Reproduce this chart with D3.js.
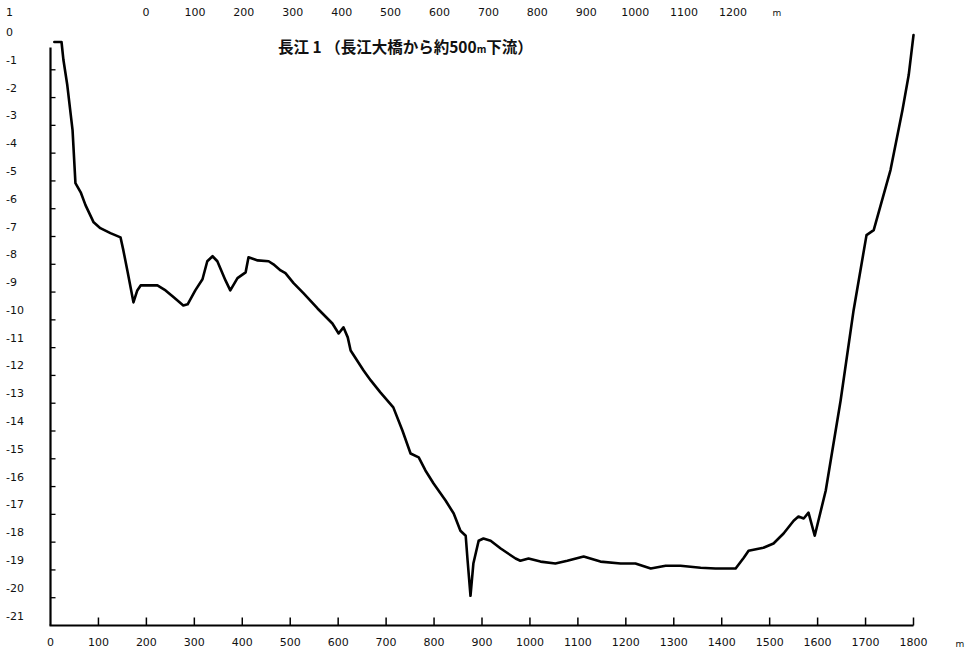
<!DOCTYPE html>
<html>
<head>
<meta charset="utf-8">
<script src="https://cdn.jsdelivr.net/npm/d3@7"></script>
<style>
  html, body { margin: 0; padding: 0; background: #fff; }
  svg { display: block; }
  .lbl { font-family: "DejaVu Sans", sans-serif; font-size: 11px; fill: #111; }
</style>
</head>
<body>
<svg id="chart" width="974" height="654"></svg>
<script>
// Cross-section of the river bed: distance from the left bank (m) and bed elevation (m)
const distance = [8, 23, 27, 35, 46, 52, 63, 73, 90, 104, 125, 146, 152, 161, 173, 181, 188,
  223, 240, 257, 277, 286, 302, 317, 327, 338, 348, 365, 375, 390, 407, 413, 432, 455, 465,
  480, 490, 507, 528, 557, 588, 601, 611, 620, 626, 653, 668, 688, 715, 734, 751, 768, 782,
  799, 824, 841, 855, 866, 870, 876, 882, 893, 903, 918, 939, 970, 980, 997, 1022, 1053,
  1078, 1112, 1147, 1189, 1220, 1252, 1283, 1314, 1356, 1387, 1429, 1446, 1456, 1487, 1508,
  1529, 1550, 1560, 1571, 1581, 1594, 1617, 1648, 1675, 1702, 1717, 1752, 1777, 1790, 1800];
const elevation = [0, 0, -0.65, -1.55, -3.17, -5.08, -5.41, -5.87, -6.49, -6.70, -6.88, -7.03,
  -7.50, -8.29, -9.37, -8.94, -8.76, -8.76, -8.94, -9.19, -9.48, -9.44, -8.94, -8.54, -7.89,
  -7.71, -7.89, -8.58, -8.94, -8.50, -8.29, -7.75, -7.86, -7.89, -8.00, -8.22, -8.32, -8.68,
  -9.05, -9.59, -10.13, -10.49, -10.27, -10.63, -11.10, -11.82, -12.18, -12.61, -13.15,
  -13.98, -14.81, -14.95, -15.42, -15.89, -16.50, -16.97, -17.59, -17.77, -18.67, -19.93,
  -18.77, -17.95, -17.87, -17.95, -18.23, -18.59, -18.67, -18.59, -18.70, -18.77, -18.67,
  -18.52, -18.70, -18.77, -18.77, -18.95, -18.85, -18.85, -18.92, -18.95, -18.95, -18.56,
  -18.31, -18.20, -18.05, -17.69, -17.23, -17.08, -17.15, -16.94, -17.77, -16.14, -12.90,
  -9.66, -6.95, -6.77, -4.61, -2.45, -1.19, 0.25];

// Axis ticks and labels
const xTicks = [0, 100, 200, 300, 400, 500, 600, 700, 800, 900, 1000, 1100, 1200, 1300, 1400, 1500, 1600, 1700, 1800];
const yLabels = [1, 0, -1, -2, -3, -4, -5, -6, -7, -8, -9, -10, -11, -12, -13, -14, -15, -16, -17, -18, -19, -20, -21];
const yTicks = [-1, -2, -3, -4, -5, -6, -7, -8, -9, -10, -11, -12, -13, -14, -15, -16, -17, -18, -19, -20];
const scaleBarTicks = [0, 100, 200, 300, 400, 500, 600, 700, 800, 900, 1000, 1100, 1200];

const titleMain = "長江 1 （長江大橋から約500";
const titleUnit = "m";
const titleTail = "下流）";

const svg = d3.select("#chart");

const x = d3.scaleLinear().domain([0, 1800]).range([50.5, 913.5]);
const y = d3.scaleLinear().domain([0, -21]).range([42, 625.5]);

// Scale bar along the top
const sb = d3.scaleLinear().domain([0, 1200]).range([146, 733]);
svg.append("g").selectAll("text").data(scaleBarTicks).join("text")
  .attr("class", "lbl")
  .attr("x", d => sb(d)).attr("y", 16)
  .attr("text-anchor", "middle")
  .text(d => d);
svg.append("text").attr("class", "lbl").attr("x", 777).attr("y", 16)
  .attr("text-anchor", "middle").style("font-size", "9px").text("m");

// Left axis
const yAxis = svg.append("g");
yAxis.append("line")
  .attr("x1", x(0)).attr("x2", x(0))
  .attr("y1", y(-0.2)).attr("y2", y(-21))
  .attr("stroke", "#000").attr("stroke-width", 2.2);
yAxis.selectAll("line.tick").data(yTicks).join("line")
  .attr("class", "tick")
  .attr("x1", x(0)).attr("x2", x(0) + 5)
  .attr("y1", d => y(d)).attr("y2", d => y(d))
  .attr("stroke", "#000").attr("stroke-width", 1.3);
yAxis.selectAll("text").data(yLabels).join("text")
  .attr("class", "lbl")
  .attr("x", 6).attr("y", d => Math.max(y(d) - 6, 16))
  .text(d => d);

// Bottom axis
const xAxis = svg.append("g");
xAxis.append("line")
  .attr("x1", x(0) - 1).attr("x2", x(1800))
  .attr("y1", y(-21)).attr("y2", y(-21))
  .attr("stroke", "#000").attr("stroke-width", 2);
xAxis.selectAll("line.tick").data(xTicks.slice(1)).join("line")
  .attr("class", "tick")
  .attr("x1", d => x(d)).attr("x2", d => x(d))
  .attr("y1", y(-21)).attr("y2", y(-21) - 8)
  .attr("stroke", "#000").attr("stroke-width", 1.5);
xAxis.selectAll("text").data(xTicks).join("text")
  .attr("class", "lbl")
  .attr("x", d => x(d)).attr("y", 646)
  .attr("text-anchor", "middle")
  .text(d => d);
svg.append("text").attr("class", "lbl").attr("x", 960).attr("y", 647)
  .attr("text-anchor", "middle").style("font-size", "9px").text("m");

// Title
const title = svg.append("text")
  .attr("x", 278).attr("y", 53)
  .style("font-family", "'Noto Sans CJK JP', sans-serif")
  .style("font-weight", "bold")
  .style("font-size", "15.5px")
  .attr("fill", "#111");
title.append("tspan").text(titleMain);
title.append("tspan").style("font-size", "10px").text(titleUnit);
title.append("tspan").text(titleTail);

// River bed profile
const profile = distance.map((d, i) => [d, elevation[i]]);
svg.append("path")
  .datum(profile)
  .attr("fill", "none")
  .attr("stroke", "#000")
  .attr("stroke-width", 2.6)
  .attr("stroke-linejoin", "round")
  .attr("stroke-linecap", "round")
  .attr("d", d3.line().x(p => x(p[0])).y(p => y(p[1])));
</script>
</body>
</html>
